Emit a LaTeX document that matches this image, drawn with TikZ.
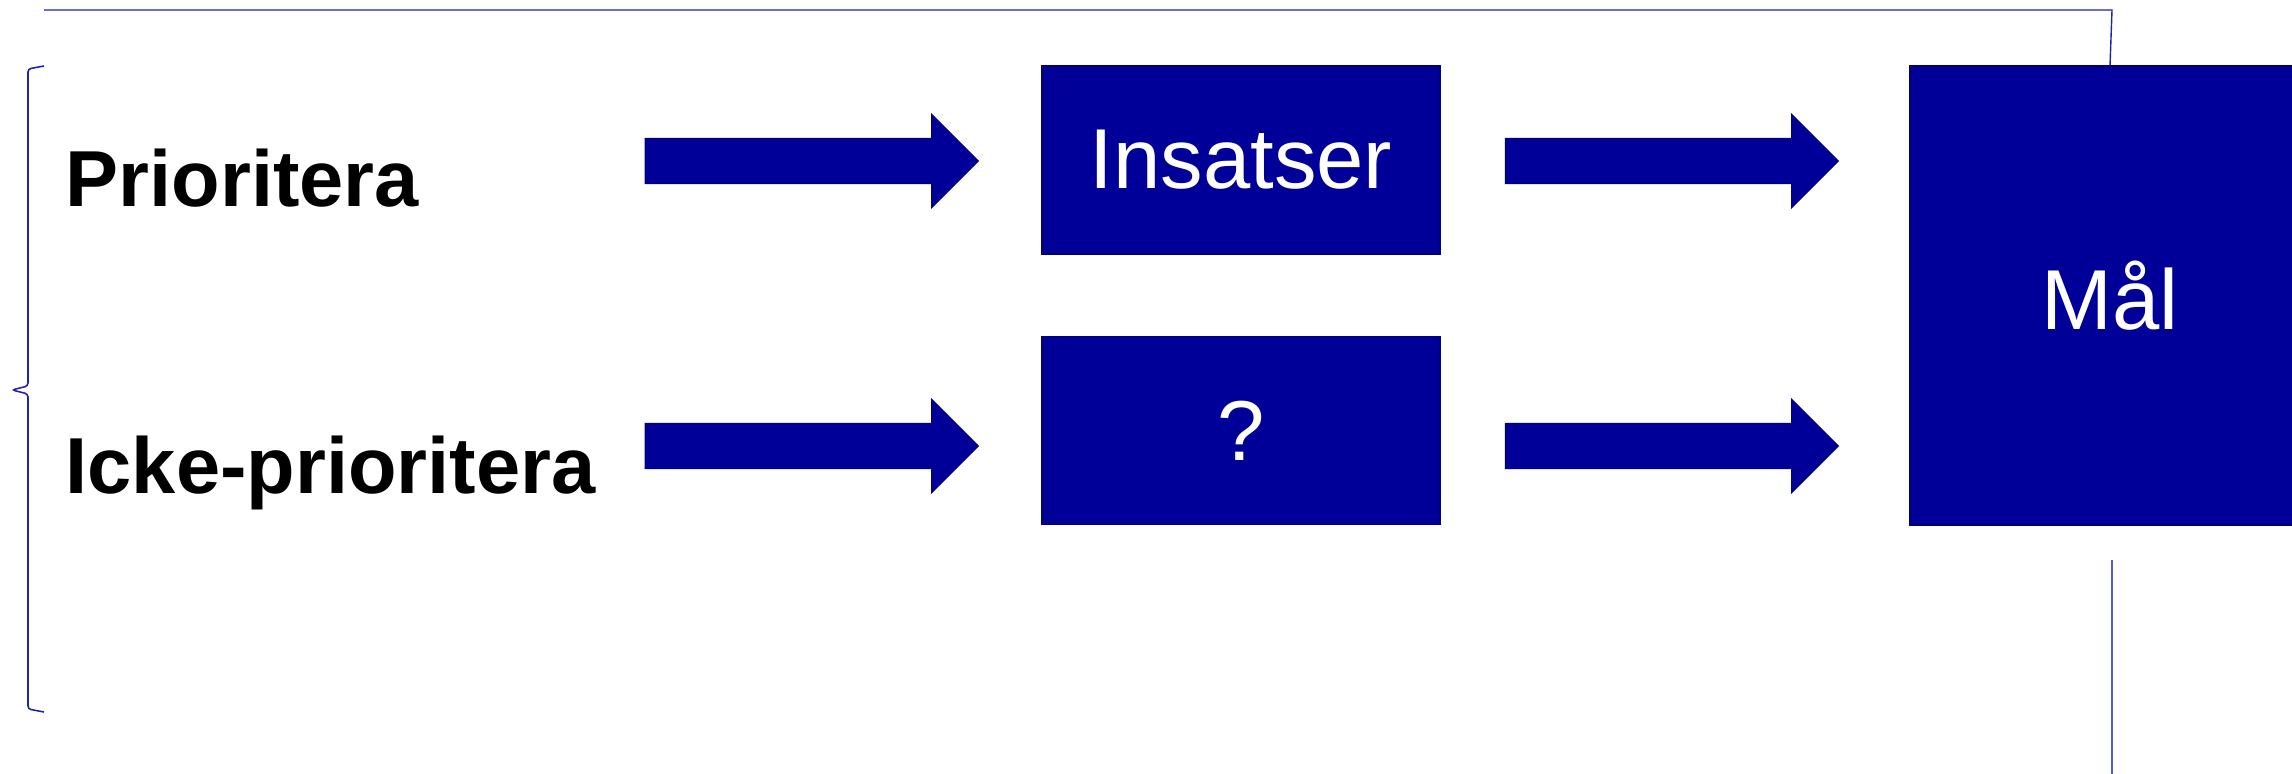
\documentclass[tikz,border=0pt]{standalone}
\usepackage{fontspec}
\setmainfont{Liberation Sans}
\usetikzlibrary{shapes.arrows}
\definecolor{boxblue}{RGB}{0,0,153}
\definecolor{edgeblue}{RGB}{0,0,120}
\definecolor{lineblue}{RGB}{34,34,170}
\definecolor{paleblue}{RGB}{90,90,204}

\begin{document}
\begin{tikzpicture}
\tikzstyle{box}=[fill=boxblue,draw=edgeblue,line width=0.3pt,text=white,minimum width=3.98cm,minimum height=1.88cm,inner sep=0pt,font=\fontsize{24.2}{29}\selectfont];
\tikzstyle{fat arrow}=[single arrow,fill=boxblue,draw=edgeblue,line width=0.3pt,inner sep=0pt,text height=0.44cm,text depth=0pt,minimum height=3.33cm,single arrow head extend=0.24cm];
\tikzstyle{choice}=[anchor=base west,inner sep=0pt,font=\bfseries\fontsize{22.6}{27}\selectfont];
\useasboundingbox (0,0) rectangle (22.92,7.74);

% left side
\node[choice] (prio) at (0.65,5.67) {Prioritera};
\node[choice] (icke) at (0.65,2.80) {Icke-prioritera};
\coordinate (bracetop) at (0.44,7.08);
\coordinate (bracetip) at (0.12,3.84);
\coordinate (bracebot) at (0.44,0.62);
\draw[lineblue,line width=0.45pt,rounded corners=0.03cm] (bracetop) -- (0.28,7.05) -- (0.28,3.88) -- (bracetip) -- (0.28,3.80) -- (0.28,0.65) -- (bracebot);

% boxes
\node[box] (insatser) at (12.41,6.14) {Insatser};
\node[box] (okand) at (12.41,3.435) {?};
\node[box,minimum width=4cm,minimum height=4.59cm] (mal) at (21.10,4.785) {Mål};

% arrows
\node[fat arrow] (a1) at (8.005,6.13) {};
\node[fat arrow] (a2) at (8.005,3.28) {};
\node[fat arrow] (a3) at (16.605,6.13) {};
\node[fat arrow] (a4) at (16.605,3.28) {};

% lines
\coordinate (linestart) at (0.44,7.64);
\coordinate (linecorner) at (21.12,7.64);
\draw[lineblue,line width=0.4pt] (linestart) -- (linecorner) -- (mal.north);
\coordinate (lowtop) at (21.12,2.14);
\coordinate (lowbot) at (21.12,0);
\draw[paleblue,line width=0.6pt] (lowtop) -- (lowbot);
\end{tikzpicture}
\end{document}
